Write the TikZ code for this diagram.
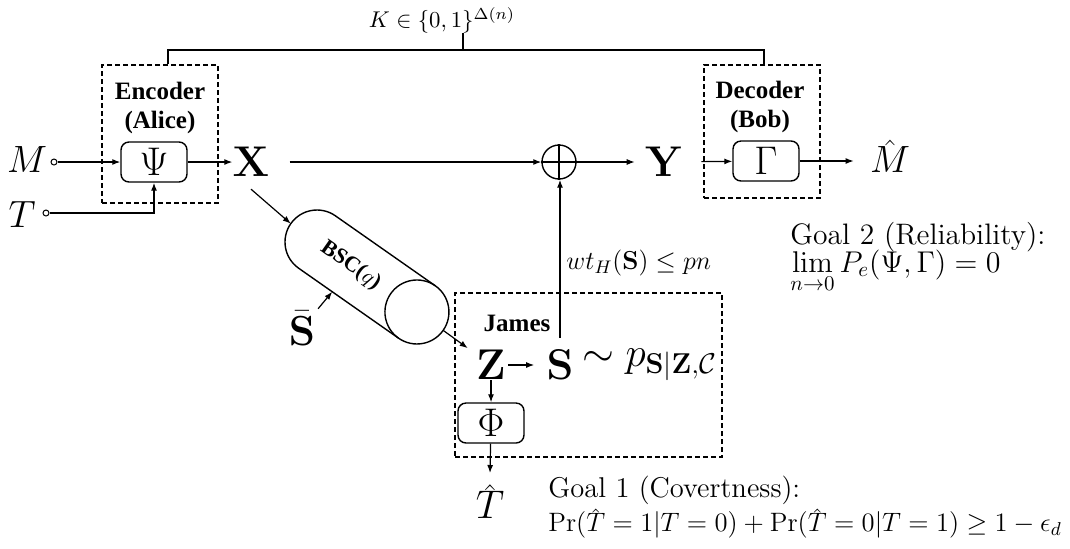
\RequirePackage{fix-cm}
\documentclass[tikz,border=0pt]{standalone}
\usepackage{amsmath,amssymb}
\usepackage[no-math]{fontspec}
\DeclareSymbolFont{operators}{OT1}{cmr}{m}{n}
\SetSymbolFont{operators}{bold}{OT1}{cmr}{bx}{n}
\newfontfamily\tnr{Liberation Serif}
\newcommand\pathat[1]{\hat{\smash{#1}\rule{0pt}{0.57em}}}
\usetikzlibrary{arrows.meta}
\begin{document}
\begin{tikzpicture}[x=0.5pt,y=-0.5pt,
  every node/.style={inner sep=0pt},
  conn/.style={line width=0.6pt},
  arr/.style={conn,-{Latex[length=4pt,width=3pt]}},
  dbox/.style={draw,dash pattern=on 2.5pt off 1.5pt,line width=0.6pt},
  fbox/.style={draw,rounded corners=4pt,line width=0.7pt,minimum width=33pt,minimum height=20pt,font=\fontsize{20}{22}\selectfont},
  big/.style={font=\fontsize{19}{22}\selectfont},
  bigb/.style={font=\fontsize{21.5}{24}\selectfont},
  blab/.style={font=\fontsize{12.5}{14.5}\selectfont\tnr\bfseries,align=center},
  port/.style={draw,circle,inner sep=0pt,minimum size=3pt,line width=0.5pt}
]
\useasboundingbox (0,0) rectangle (1070,548);

% containers
\node[dbox,minimum width=58pt,minimum height=69pt] (encbox) at (160,134) {};
\node[dbox,minimum width=58pt,minimum height=66.5pt] (decbox) at (762,131.5) {};
\node[dbox,minimum width=133.5pt,minimum height=82pt] (jambox) at (588.5,375) {};

\node[blab] (enclab) at (160,108) {Encoder\\(Alice)};
\node[blab] (declab) at (760,107) {Decoder\\(Bob)};
\node[blab] (jamlab) at (517,323) {James};

% key
\node[font=\fontsize{11.4}{14}\selectfont] (K) at (442,20) {$K\in\{0,1\}^{\Delta(n)}$};
\coordinate (kl) at (168,50);
\coordinate (kr) at (764,50);
\coordinate (kt) at (463,50);
\draw[conn] (kl |- encbox.north) -- (kl) -- (kr) -- (kr |- decbox.north);
\draw[conn] (kt) -- (kt |- K.south);

% encoder
\node[big] (M) at (27,160) {$M$};
\node[port] (mo) at (54,162) {};
\node[big] (T) at (22,215) {$T$};
\node[port] (to) at (46,213) {};
\node[fbox] (psi) at (154,162) {$\Psi$};
\draw[arr] (mo) -- (psi);
\draw[arr] (to) -| (psi.south);

\node[bigb] (X) at (251,162) {$\mathbf{X}$};
\draw[arr] (psi) -- (X);

% xor
\node[draw,circle,minimum size=17pt,line width=0.7pt] (xor) at (559,162) {};
\draw[line width=0.6pt] (xor.north) -- (xor.south) (xor.west) -- (xor.east);
\draw[arr,shorten <=10pt] (X) -- (xor);

\node[bigb] (Y) at (664,162) {$\mathbf{Y}$};
\draw[arr,shorten >=5pt] (xor) -- (Y);

% decoder
\node[fbox] (gam) at (766,161) {$\Gamma$};
\draw[arr,shorten <=9pt] (Y) -- (gam);
\node[big,anchor=base] (Mh) at (890,172) {$\pathat{M}$};
\draw[arr,shorten >=8pt] (gam) -- (Mh.west |- gam);

% channel
\begin{scope}[shift={(317,242)},rotate=-35]
  \draw[line width=0.7pt] (122,-32) -- (0,-32) arc[start angle=270,end angle=90,radius=32] -- (122,32);
  \draw[line width=0.7pt] (122,0) circle[radius=32];
  \node[font=\fontsize{11}{13}\selectfont\tnr\bfseries,rotate=-35] (bsc) at (41,0) {BSC($q$)};
  \coordinate (cin) at (-32,0);
  \coordinate (sbin) at (41,32);
  \coordinate (cout) at (154,0);
\end{scope}
\coordinate (xo) at ([yshift=-6pt]X.south);
\draw[arr] (xo) -- (cin);

\node[font=\fontsize{21}{24}\selectfont] (Sb) at (302,328) {$\bar{\mathbf{S}}$};
\draw[arr,shorten <=2pt] (Sb) -- (sbin);

% James
\node[bigb] (Z) at (491,365) {$\mathbf{Z}$};
\draw[arr,shorten >=5pt] (cout) -- (Z);
\node[bigb] (S) at (560,365) {$\mathbf{S}$};
\node[font=\fontsize{20.5}{24}\selectfont,anchor=west] (Sdist) at ([xshift=4pt]S.east) {$\sim p_{\mathbf{S}|\mathbf{Z},\mathcal{C}}$};
\draw[arr,shorten <=1pt,shorten >=6pt] (Z) -- (S);
\draw[arr,shorten <=6pt] (S.north) -- (S.north |- xor.south);
\node[font=\fontsize{13}{15}\selectfont,anchor=west] (wt) at (566,263) {$wt_H(\mathbf{S})\le pn$};

\node[fbox] (phi) at (491,423) {$\Phi$};
\draw[arr] (Z.south -| phi) -- (phi);
\node[font=\fontsize{20}{23}\selectfont,anchor=base] (Th) at (490,518) {$\pathat{T}$};
\coordinate (thtop) at (490,473);
\draw[arr] (phi) -- (thtop);

% goals
\node[font=\fontsize{14.8}{17}\selectfont,anchor=base west] (g2a) at (790,244) {Goal 2 (Reliability):};
\node[font=\fontsize{15}{17}\selectfont,anchor=base west] (g2b) at (790,272) {$\lim\limits_{n\to 0} P_e(\Psi,\Gamma)=0$};
\node[font=\fontsize{14.3}{17}\selectfont,anchor=base west] (g1a) at (548,497) {Goal 1 (Covertness):};
\node[font=\fontsize{13.3}{16}\selectfont,anchor=base west] (g1b) at (548,531) {$\Pr(\pathat{T}=1|T=0)+\Pr(\pathat{T}=0|T=1)\ge 1-\epsilon_d$};
\end{tikzpicture}
\end{document}
